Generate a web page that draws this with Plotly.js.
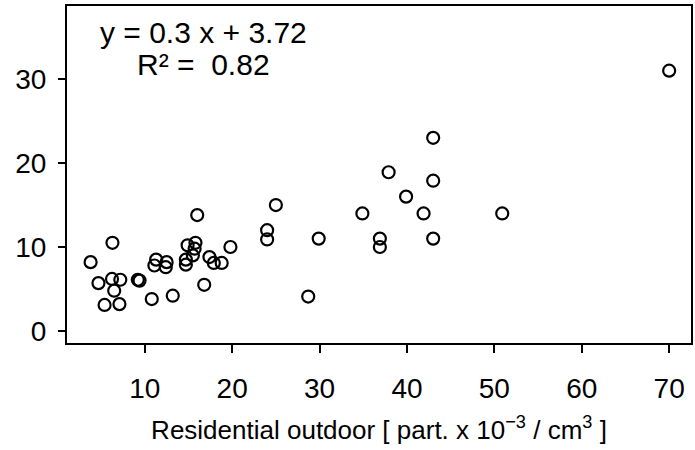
<!DOCTYPE html>
<html>
<head>
<meta charset="utf-8">
<script src="https://cdn.plot.ly/plotly-3.0.1.min.js"></script>
<style>
  html, body { margin: 0; padding: 0; background: #fff; }
  #chart { width: 695px; height: 450px; }
</style>
</head>
<body>
<div id="chart"></div>
<script>
// Residential outdoor particle concentration (x) vs. paired measurement (y)
const outdoor = [3.8, 4.7, 5.4, 6.3, 6.25, 6.5, 7.2, 7.1, 9.2, 9.4,
                 10.8, 11.3, 11.1, 12.5, 12.4, 13.2, 14.9, 15.8, 15.7, 15.5,
                 14.7, 14.7, 16.0, 16.8, 17.4, 17.9, 18.8, 19.8, 24.0, 24.0,
                 25.0, 28.7, 29.9, 34.9, 36.9, 36.9, 37.9, 39.9, 41.9, 43.0,
                 43.0, 43.0, 50.9, 70.0];
const measured = [8.2, 5.7, 3.1, 10.5, 6.2, 4.8, 6.1, 3.2, 6.1, 6.0,
                  3.8, 8.5, 7.8, 8.2, 7.6, 4.2, 10.2, 10.5, 9.8, 9.0,
                  8.5, 7.9, 13.8, 5.5, 8.8, 8.1, 8.1, 10.0, 12.0, 10.9,
                  15.0, 4.1, 11.0, 14.0, 11.0, 10.0, 18.9, 16.0, 14.0, 23.0,
                  17.9, 11.0, 14.0, 31.0];
const xTicks = [10, 20, 30, 40, 50, 60, 70];
const yTicks = [0, 10, 20, 30];
const equationText = "y = 0.3 x + 3.72";
const r2Text = "R\u00b2 = \u00a00.82";
const xTitle = "Residential outdoor [ part. x 10<sup>\u22123</sup> / cm<sup>3</sup> ]";

const FONT = "Arial, 'Liberation Sans', sans-serif";

const trace = {
  x: outdoor,
  y: measured,
  type: "scatter",
  mode: "markers",
  marker: {
    symbol: "circle-open",
    size: 12,
    color: "#000",
    line: { color: "#000", width: 2.2 }
  },
  hoverinfo: "x+y"
};

const layout = {
  width: 695,
  height: 450,
  margin: { l: 67, r: 4, t: 6, b: 107, pad: 0 },
  paper_bgcolor: "#fff",
  plot_bgcolor: "#fff",
  showlegend: false,
  font: { family: FONT, color: "#000" },
  xaxis: {
    range: [1.1, 72.5],
    tickmode: "array",
    tickvals: xTicks,
    ticktext: xTicks.map(String),
    ticks: "outside",
    ticklen: 8,
    tickwidth: 2,
    tickcolor: "#000",
    ticklabelstandoff: 11,
    tickfont: { family: FONT, size: 28, color: "#000" },
    showline: true,
    linecolor: "#000",
    linewidth: 2,
    mirror: true,
    showgrid: false,
    zeroline: false,
    automargin: false,
    title: { text: xTitle, font: { family: FONT, size: 26, color: "#000" }, standoff: 18 }
  },
  yaxis: {
    range: [-1.43, 38.7],
    tickmode: "array",
    tickvals: yTicks,
    ticktext: yTicks.map(String),
    ticks: "outside",
    ticklen: 7,
    tickwidth: 2,
    tickcolor: "#000",
    ticklabelstandoff: 6,
    tickfont: { family: FONT, size: 28, color: "#000" },
    showline: true,
    linecolor: "#000",
    linewidth: 2,
    mirror: true,
    showgrid: false,
    zeroline: false,
    automargin: false
  },
  annotations: [
    { xref: "paper", yref: "paper", x: 0.218, y: 0.92, xanchor: "center", yanchor: "middle",
      text: equationText, showarrow: false, font: { family: FONT, size: 30, color: "#000" } },
    { xref: "paper", yref: "paper", x: 0.218, y: 0.825, xanchor: "center", yanchor: "middle",
      text: r2Text, showarrow: false, font: { family: FONT, size: 30, color: "#000" } }
  ]
};

Plotly.newPlot("chart", [trace], layout, { displayModeBar: false, staticPlot: true });
</script>
</body>
</html>
